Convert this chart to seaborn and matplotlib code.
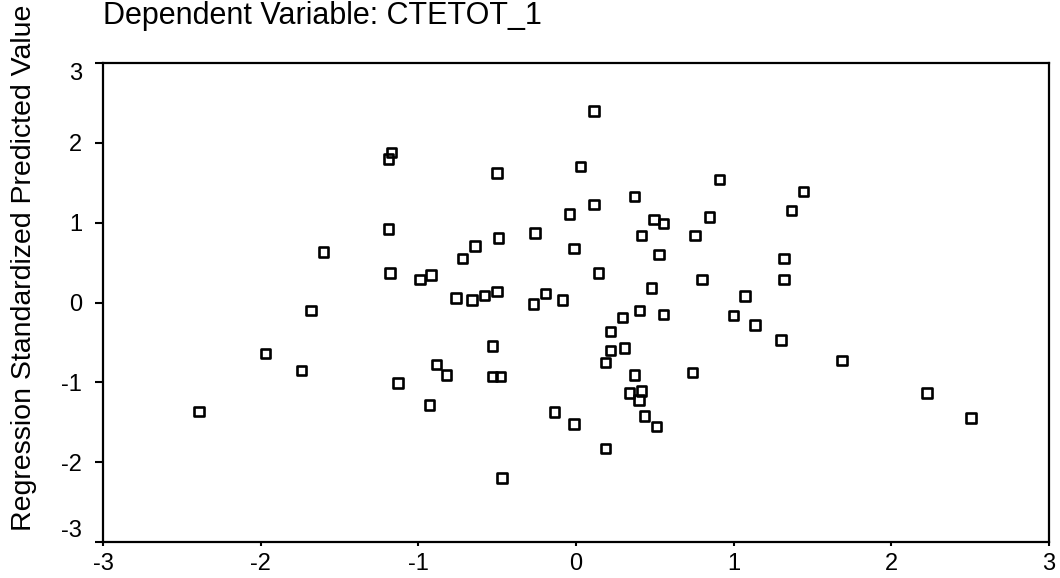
import matplotlib
matplotlib.use("Agg")
import matplotlib.pyplot as plt
import seaborn as sns
import pandas as pd

# Scatter data (x, y pairs)
x_vals = [
    -2.39, -1.97, -1.74, -1.68, -1.60, -1.17, -1.19, -1.19, -1.18, -1.13,
    -0.99, -0.92, -0.885, -0.82, -0.93, -0.76, -0.72, -0.66, -0.64, -0.58,
    -0.50, -0.50, -0.49, -0.53, -0.53, -0.48, -0.47, -0.27, -0.26, -0.195,
    -0.087, -0.136, -0.04, -0.013, 0.03, -0.013, 0.113, 0.113, 0.142, 0.187,
    0.219, 0.219, 0.295, 0.308, 0.187, 0.371, 0.416, 0.495, 0.556, 0.527,
    0.478, 0.401, 0.556, 0.371, 0.34, 0.416, 0.40, 0.433, 0.512, 0.739,
    0.756, 0.80, 0.847, 0.909, 1.0, 1.072, 1.136, 1.30, 1.318, 1.318,
    1.367, 1.444, 1.686, 2.225, 2.505,
]
y_vals = [
    -1.365, -0.64, -0.85, -0.10, 0.63, 1.88, 1.80, 0.92, 0.37, -1.006,
    0.29, 0.345, -0.78, -0.906, -1.286, 0.056, 0.55, 0.03, 0.71, 0.09,
    0.135, 1.62, 0.81, -0.546, -0.93, -0.93, -2.20, -0.02, 0.87, 0.11,
    0.03, -1.37, 1.11, 0.68, 1.70, -1.52, 2.40, 1.23, 0.37, -0.755,
    -0.36, -0.60, -0.19, -0.57, -1.83, 1.33, 0.84, 1.04, 0.99, 0.60,
    0.18, -0.10, -0.15, -0.906, -1.135, -1.11, -1.22, -1.42, -1.55, -0.88,
    0.84, 0.29, 1.07, 1.54, -0.16, 0.08, -0.28, -0.47, 0.55, 0.29,
    1.15, 1.39, -0.725, -1.135, -1.445,
]
tick_vals = [-3, -2, -1, 0, 1, 2, 3]
tick_labels = ["-3", "-2", "-1", "0", "1", "2", "3"]
title_text = "Dependent Variable: CTETOT_1"
ylabel_text = "Regression Standardized Predicted Value"

df = pd.DataFrame({"x": x_vals, "y": y_vals})

sns.set_theme(style="white")
plt.rcParams["font.family"] = ["Liberation Sans", "DejaVu Sans"]

W, H = 1060, 578
fig = plt.figure(figsize=(W / 100, H / 100), dpi=100)
left, right, top, bottom = 103, 1049, 63, 542
ax = fig.add_axes([left / W, 1 - bottom / H, (right - left) / W, (bottom - top) / H])

sns.scatterplot(data=df, x="x", y="y", ax=ax, marker="s", s=46,
                facecolor="none", edgecolor="black", linewidth=1.9)

ax.set_xlim(-3, 3)
ax.set_ylim(-3, 3)
ax.set_xticks(tick_vals)
ax.set_xticklabels(tick_labels)
ax.set_yticks(tick_vals)
ax.set_yticklabels(tick_labels)
ax.set_xlabel("")
ax.set_ylabel("")

for sp in ax.spines.values():
    sp.set_visible(True)
    sp.set_color("black")
    sp.set_linewidth(1.6)

ax.tick_params(axis="x", direction="out", length=3, width=1.5, color="black",
               labelsize=17, pad=5, bottom=True, labelcolor="black")
ax.tick_params(axis="y", direction="out", length=6, width=1.5, color="black",
               labelsize=17, pad=9, left=True, labelcolor="black")

ylabs = ax.get_yticklabels()
ylabs[-1].set_va("top")
ylabs[0].set_va("bottom")

fig.text(103 / W, 1 - 24 / H, title_text, fontsize=22, ha="left",
         va="baseline", color="black")
fig.text(24 / W, 1 - 268 / H, ylabel_text, fontsize=20.5, rotation=90,
         ha="center", va="center", color="black")

fig.savefig("out.png", dpi=100, facecolor="white")
